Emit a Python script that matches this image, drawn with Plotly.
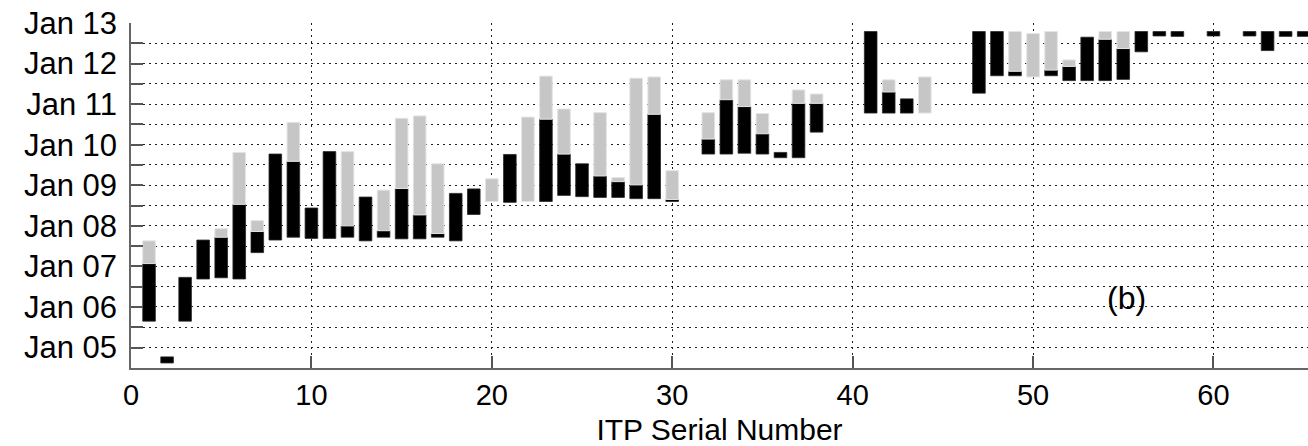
import plotly.graph_objects as go

# ITP serial numbers and their record spans, as decimal years
itp = [1, 2, 3, 4, 5, 6, 7, 8, 9, 10,
       11, 12, 13, 14, 15, 16, 17, 18, 19, 20,
       21, 22, 23, 24, 25, 26, 27, 28, 29, 30,
       32, 33, 34, 35, 36, 37, 38,
       41, 42, 43, 44,
       47, 48, 49, 50, 51, 52, 53, 54, 55, 56, 57, 58,
       60, 62, 63, 64, 65]

deploy = [2005.65, 2004.62, 2005.65, 2006.69, 2006.72, 2006.69, 2007.34, 2007.65, 2007.72, 2007.69,
          2007.69, 2007.72, 2007.63, 2007.72, 2007.68, 2007.68, 2007.72, 2007.63, 2008.28, 2008.60,
          2008.58, 2008.60, 2008.60, 2008.75, 2008.72, 2008.70, 2008.70, 2008.67, 2008.67, 2008.60,
          2009.77, 2009.77, 2009.79, 2009.77, 2009.68, 2009.68, 2010.31,
          2010.78, 2010.78, 2010.78, 2010.78,
          2011.27, 2011.70, 2011.70, 2011.67, 2011.70, 2011.58, 2011.58, 2011.58, 2011.61, 2012.29,
          2012.68, 2012.67,
          2012.68, 2012.68, 2012.32, 2012.67, 2012.67]

black_end = [2007.07, 2004.77, 2006.73, 2007.65, 2007.72, 2008.53, 2007.86, 2009.77, 2009.59, 2008.44,
             2009.83, 2008.00, 2008.71, 2007.88, 2008.92, 2008.27, 2007.81, 2008.80, 2008.91, 2008.60,
             2009.76, 2008.60, 2010.63, 2009.77, 2009.53, 2009.23, 2009.09, 2009.01, 2010.75, 2008.65,
             2010.14, 2011.11, 2010.94, 2010.27, 2009.81, 2011.02, 2011.02,
             2012.79, 2011.30, 2011.13, 2010.78,
             2012.79, 2012.79, 2011.81, 2011.67, 2011.84, 2011.93, 2012.65, 2012.60, 2012.37, 2012.79,
             2012.79, 2012.79,
             2012.79, 2012.79, 2012.79, 2012.79, 2012.79]

gray_end = [2007.63, 2004.77, 2006.73, 2007.65, 2007.93, 2009.81, 2008.13, 2009.77, 2010.55, 2008.44,
            2009.83, 2009.83, 2008.71, 2008.88, 2010.65, 2010.71, 2009.53, 2008.80, 2008.91, 2009.16,
            2009.76, 2010.68, 2011.69, 2010.88, 2009.53, 2010.79, 2009.19, 2011.64, 2011.67, 2009.36,
            2010.79, 2011.60, 2011.60, 2010.77, 2009.81, 2011.35, 2011.25,
            2012.79, 2011.60, 2011.13, 2011.67,
            2012.79, 2012.79, 2012.79, 2012.74, 2012.79, 2012.09, 2012.65, 2012.79, 2012.79, 2012.79,
            2012.79, 2012.79,
            2012.79, 2012.79, 2012.79, 2012.79, 2012.79]

year_ticks = [2004.5, 2005, 2005.5, 2006, 2006.5, 2007, 2007.5, 2008, 2008.5,
              2009, 2009.5, 2010, 2010.5, 2011, 2011.5, 2012, 2012.5, 2013]
year_labels = ["", "Jan 05", "", "Jan 06", "", "Jan 07", "", "Jan 08", "",
               "Jan 09", "", "Jan 10", "", "Jan 11", "", "Jan 12", "", "Jan 13"]


def span(a, b):
    d = round(b - a, 4)
    return d if d > 0 else None


black_len = [span(a, b) for a, b in zip(deploy, black_end)]
gray_len = [span(a, b) for a, b in zip(black_end, gray_end)]

FONT = "Liberation Sans, Arial, sans-serif"
GRID = dict(gridcolor="#1e1e1e", gridwidth=1, griddash="2px,4px")

fig = go.Figure()
fig.add_bar(x=itp, y=black_len, base=deploy, width=0.7,
            marker=dict(color="#000000", line=dict(color="#2a2a2a", width=0.8)))
fig.add_bar(x=itp, y=gray_len, base=black_end, width=0.7,
            marker=dict(color="#c6c6c6", line=dict(color="#e4e4e4", width=1)))

fig.add_annotation(x=55.2, y=2006.22, text="(b)", showarrow=False,
                   font=dict(family=FONT, size=32, color="#000"))

fig.update_layout(
    width=1308, height=446,
    margin=dict(l=131, r=0, t=23, b=78),
    barmode="overlay",
    showlegend=False,
    plot_bgcolor="white", paper_bgcolor="white",
    xaxis=dict(
        range=[0, 65.24], tickvals=[0, 10, 20, 30, 40, 50, 60],
        ticks="inside", ticklen=12, tickwidth=1.5, tickcolor="#555",
        showline=True, linecolor="#666", linewidth=1.5,
        showgrid=True, zeroline=False, **GRID,
        tickfont=dict(family=FONT, size=29, color="#000"),
        title=dict(text="ITP Serial Number", standoff=9,
                   font=dict(family=FONT, size=30, color="#000")),
    ),
    yaxis=dict(
        range=[2004.496, 2013.0], tickvals=year_ticks, ticktext=year_labels,
        ticks="inside", ticklen=12, tickwidth=1.5, tickcolor="#555",
        showline=True, linecolor="#666", linewidth=1.5,
        showgrid=True, zeroline=False, **GRID,
        ticklabelstandoff=6,
        tickfont=dict(family=FONT, size=31, color="#000"),
    ),
)

fig.write_html("out.html")
